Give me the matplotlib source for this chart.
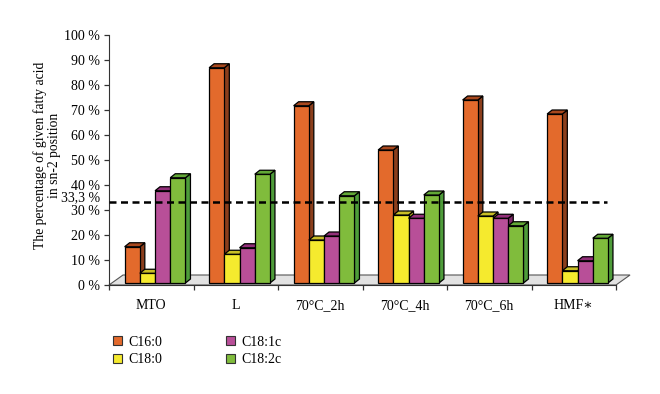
import matplotlib
matplotlib.use("Agg")
import matplotlib.pyplot as plt
from matplotlib.patches import Polygon, Rectangle
import numpy as np

# data (percent in sn-2 position)
categories = ["MTO", "L", "70°C_2h", "70°C_4h", "70°C_6h", "HMF∗"]
series_names = ["C16:0", "C18:0", "C18:1c", "C18:2c"]
c16_0 = [14.5, 86.1, 70.9, 53.2, 73.2, 67.6]
c18_0 = [3.9, 11.5, 17.2, 27.2, 26.8, 4.9]
c18_1c = [36.9, 14.1, 18.8, 25.9, 25.9, 8.9]
c18_2c = [42.1, 43.5, 34.9, 35.2, 22.9, 17.9]
threshold = 33.3
y_ticks = [0, 10, 20, 30, 40, 50, 60, 70, 80, 90, 100]

plt.rcParams['font.family'] = ['Liberation Serif', 'DejaVu Serif']

front_cols = ["#E36A2C", "#F5EA2E", "#B84F98", "#80BC3C"]
top_cols = ["#A8481E", "#C9BE26", "#93307A", "#62A836"]
side_cols = ["#8B3E1C", "#B5AA22", "#7E2868", "#4E9C3A"]

fig = plt.figure(figsize=(6.6, 3.94), dpi=100)
ax = fig.add_axes([109/660, 1 - 285/394, (616 - 109)/660, 250/394])
ax.set_xlim(0, len(categories))
ax.set_ylim(0, 100)

# floor
dxf, dyf = 0.166, 4.0
floor = Polygon([(0, 0), (6, 0), (6 + dxf, dyf), (dxf, dyf)], closed=True,
                facecolor="#e2e2e2", edgecolor="#555555", linewidth=0.8,
                zorder=1, clip_on=False)
ax.add_patch(floor)

# 3d-ish bars
all_series = [c16_0, c18_0, c18_1c, c18_2c]
bw = 0.18
x0 = 0.185
dx, dy = 0.059, 1.6
base = 0.8
z = 2
for i in range(len(categories)):
    for k, vals in enumerate(all_series):
        left = i + x0 + k * bw
        top = base + vals[i]
        front = Rectangle((left, base), bw, vals[i], facecolor=front_cols[k],
                          edgecolor="black", linewidth=0.9, zorder=z)
        side = Polygon([(left + bw, base), (left + bw + dx, base + dy),
                        (left + bw + dx, top + dy), (left + bw, top)],
                       closed=True, facecolor=side_cols[k], edgecolor="black",
                       linewidth=0.9, zorder=z)
        topf = Polygon([(left, top), (left + bw, top), (left + bw + dx, top + dy),
                        (left + dx, top + dy)], closed=True, facecolor=top_cols[k],
                       edgecolor="black", linewidth=0.9, zorder=z)
        ax.add_patch(side)
        ax.add_patch(front)
        ax.add_patch(topf)
        z += 1

# 33.3 % line
ax.plot([0, 5.89], [threshold, threshold], color="black", linestyle=(0, (2.8, 1.8)),
        linewidth=1.8, zorder=100)
ax.text(-0.1, threshold + 1.5, "33,3 %", ha="right", va="center", fontsize=10)

# axes styling
for s in ["top", "right"]:
    ax.spines[s].set_visible(False)
ax.spines["left"].set_color("#333333")
ax.spines["bottom"].set_color("#333333")
ax.set_yticks(y_ticks)
ax.set_yticklabels([f"{t} %" for t in y_ticks], fontsize=10)
ax.set_xticks(np.arange(len(categories) + 1))
ax.set_xticklabels([])
ax.set_xticks(np.arange(len(categories)) + 0.5, minor=True)
ax.set_xticklabels(categories, minor=True, fontsize=10)
ax.tick_params(axis="x", which="minor", length=0, pad=10)
ax.tick_params(axis="both", which="major", length=3.6, width=0.9, color="#333333", pad=3)

fig.text(47/660, 1 - 155/394, "The percentage of given fatty acid\nin sn-2 position",
         rotation=90, ha="center", va="center", multialignment="center", fontsize=9.8,
         linespacing=1.1)

handles = [Rectangle((0, 0), 1, 1, facecolor=c, edgecolor="#333333", linewidth=0.8)
           for c in front_cols]
fig.legend(handles, series_names, ncol=2, loc="upper left",
           bbox_to_anchor=(107/660, 1 - 330/394), frameon=False, fontsize=10,
           handlelength=0.65, handleheight=0.65, handletextpad=0.5,
           columnspacing=4.55, labelspacing=0.35, borderaxespad=0)

fig.savefig("out.png", dpi=100)
